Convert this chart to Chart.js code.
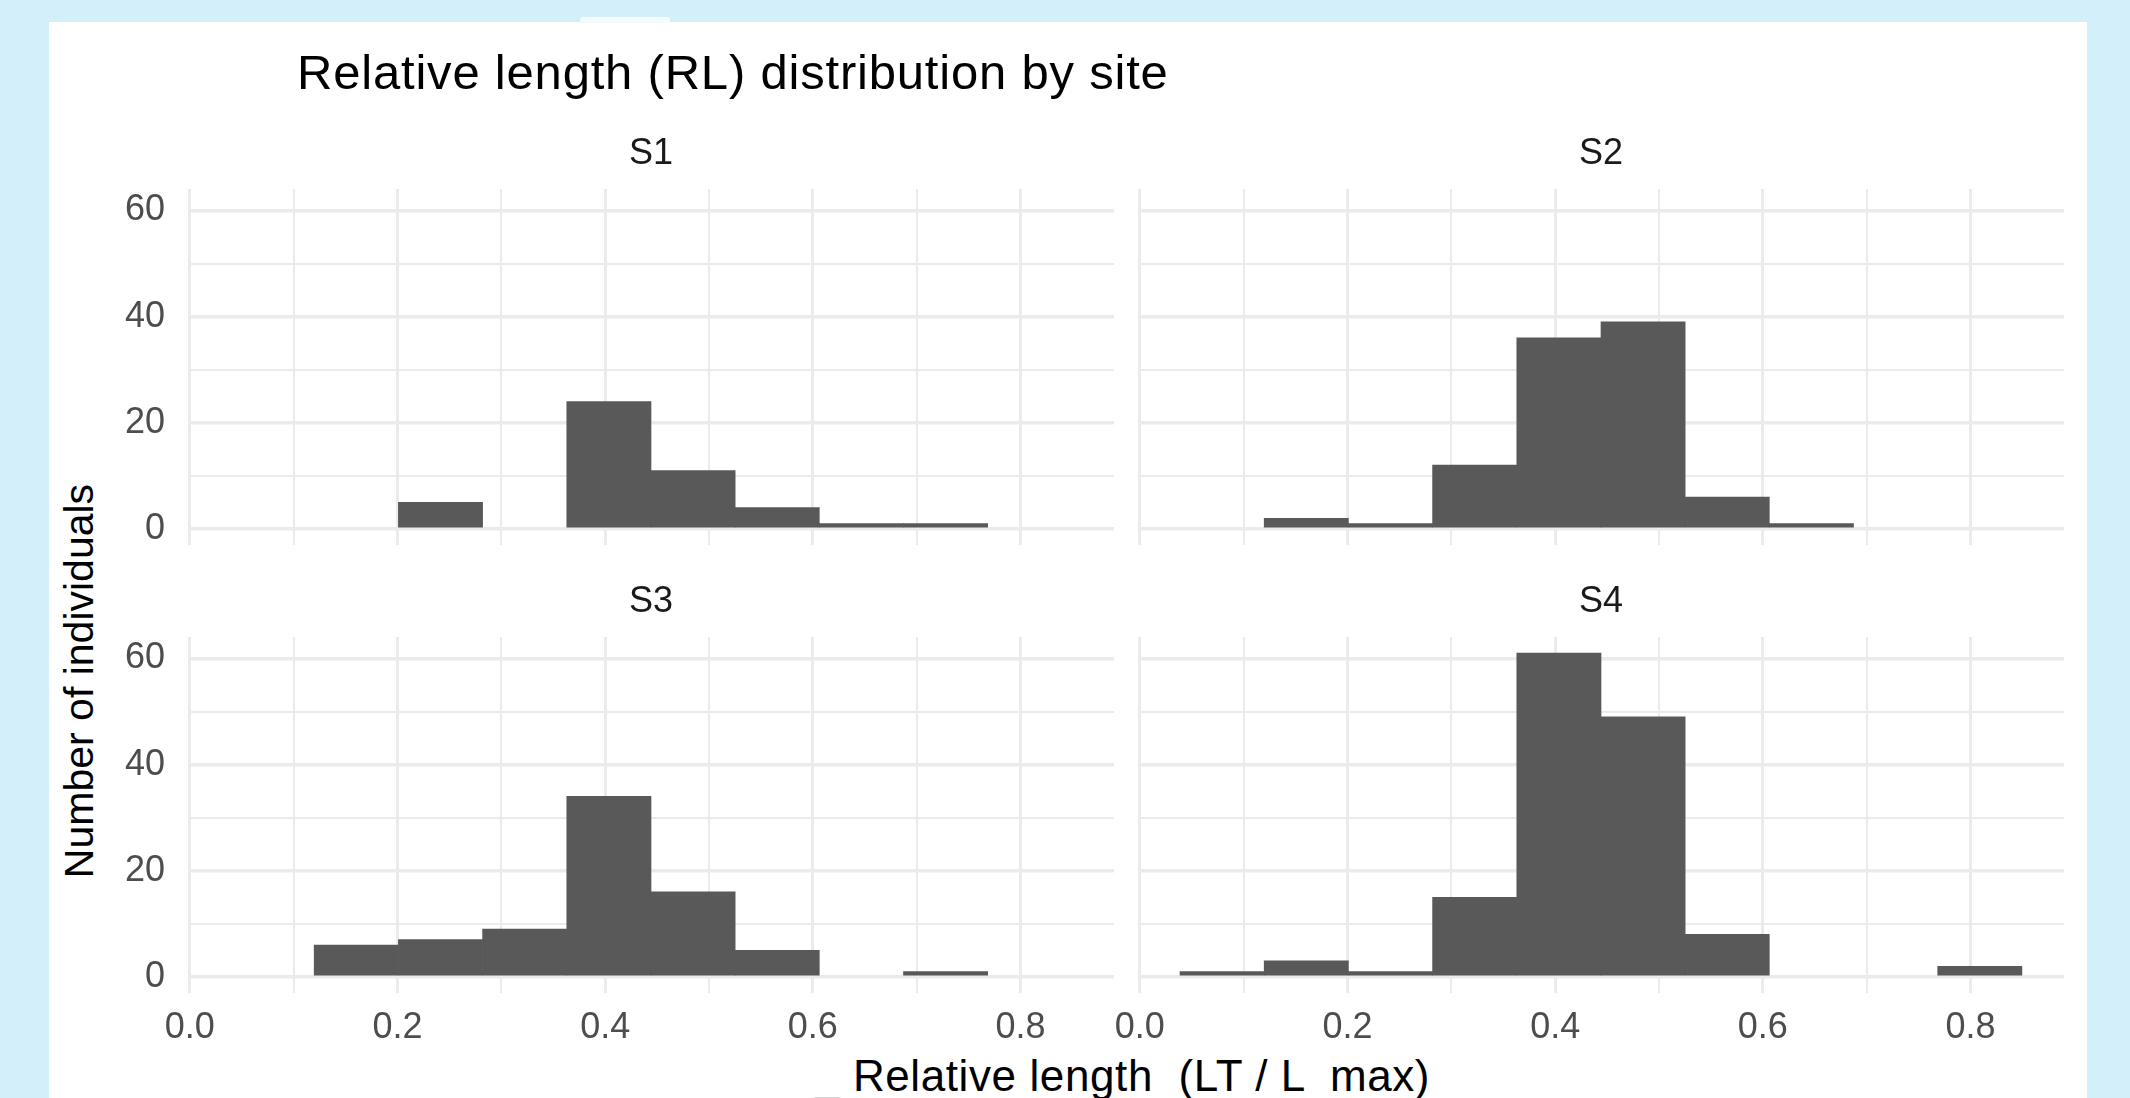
<!DOCTYPE html>
<html>
<head>
<meta charset="utf-8">
<title>Relative length (RL) distribution by site</title>
<script src="https://cdn.jsdelivr.net/npm/chart.js@4.4.1/dist/chart.umd.min.js"></script>
<style>
  body { margin: 0; width: 2130px; height: 1098px; background: #d3eff9; overflow: hidden; position: relative;
         font-family: "Liberation Sans", Arial, sans-serif; }
  #card { position: absolute; left: 49px; top: 22px; width: 2038px; height: 1076px; background: #fff; }
  #tab { position: absolute; left: 580px; top: 17px; width: 90px; height: 6px; background: #f4fbfe; border-radius: 3px 3px 0 0; }
  #title { position: absolute; left: 297px; top: 48px; font-size: 49px; line-height: 1; letter-spacing: 0.8px; color: #000; white-space: nowrap; }
  #ytitle { position: absolute; left: 79px; top: 681px; font-size: 41px; line-height: 1; color: #000; white-space: nowrap;
            transform: translate(-50%, -50%) rotate(-90deg); }
  #xtitle { position: absolute; left: 815px; top: 1054px; font-size: 44px; line-height: 1; letter-spacing: 0.6px; color: #000; white-space: pre; }
  #xtitle span { color: #c8c8c8; }
  canvas { position: absolute; }
</style>
</head>
<body>
<div id="card"></div>
<div id="tab"></div>
<div id="title">Relative length (RL) distribution by site</div>
<div id="ytitle">Number of individuals</div>
<div id="xtitle"><span>_</span> Relative length  (LT / L  max)</div>

<script>
// histogram bins (centres) shared by all sites
const binCenters = [0.0792, 0.1603, 0.2414, 0.3225, 0.4036, 0.4847, 0.5657, 0.6468, 0.7279, 0.8090];
const siteNames = ['S1', 'S2', 'S3', 'S4'];
const countsS1 = [0, 0, 5, 0, 24, 11, 4, 1, 1, 0];
const countsS2 = [0, 2, 1, 12, 36, 39, 6, 1, 0, 0];
const countsS3 = [0, 6, 7, 9, 34, 16, 5, 0, 1, 0];
const countsS4 = [1, 3, 1, 15, 61, 49, 8, 0, 0, 2];

const xGrid = [0, 0.1, 0.2, 0.3, 0.4, 0.5, 0.6, 0.7, 0.8];
const xTickValues = [0, 0.2, 0.4, 0.6, 0.8];
const xTickLabels = ['0.0', '0.2', '0.4', '0.6', '0.8'];
const yGrid = [0, 10, 20, 30, 40, 50, 60];
const yTickValues = [0, 20, 40, 60];
const yTickLabels = ['0', '20', '40', '60'];

Chart.defaults.font.family = '"Liberation Sans", Arial, sans-serif';

const allCounts = [countsS1, countsS2, countsS3, countsS4];

// panel layout (chart area in page pixels)
const panels = [
    { left: 188, top: 189, showY: true, showX: false },
    { left: 1138, top: 189, showY: false, showX: false },
    { left: 188, top: 637, showY: true, showX: true },
    { left: 1138, top: 637, showY: false, showX: true }
];
const panelW = 926, panelH = 356, axisW = 100, stripH = 60, axisH = 70;

function labelFor(v, values, labels) {
    const i = values.findIndex(t => Math.abs(t - v) < 1e-9);
    return i >= 0 ? labels[i] : '';
}

function isMajor(v, values) {
    return values.some(t => Math.abs(t - v) < 1e-9);
}

function gridWidth(c, values, major, minor) {
    if (!c.tick) return minor;
    return isMajor(c.tick.value, values) ? major : minor;
}

function createPanel(idx) {
    const p = panels[idx];
    const canvas = document.createElement('canvas');
    canvas.width = panelW + axisW;
    canvas.height = panelH + stripH + axisH;
    canvas.style.left = (p.left - axisW) + 'px';
    canvas.style.top = (p.top - stripH) + 'px';
    document.body.appendChild(canvas);

    new Chart(canvas.getContext('2d'), {
        type: 'bar',
        data: {
            datasets: [{
                label: siteNames[idx],
                data: binCenters.map((x, i) => ({ x: x, y: allCounts[idx][i] })),
                // empty bins stay empty
                backgroundColor: c => (c.raw && c.raw.y > 0) ? '#595959' : 'rgba(0,0,0,0)',
                borderWidth: 0,
                barPercentage: 1,
                categoryPercentage: 1,
                barThickness: 'flex'
            }]
        },
        options: {
            responsive: false,
            animation: false,
            devicePixelRatio: 1,
            layout: { padding: 0 },
            plugins: {
                legend: { display: false },
                tooltip: { enabled: false },
                title: {
                    display: true,
                    text: siteNames[idx],
                    fullSize: false,
                    color: '#1a1a1a',
                    font: { size: 36, weight: 'normal', lineHeight: 1.2 },
                    padding: { top: 3.4, bottom: 13.4 }
                }
            },
            scales: {
                x: {
                    type: 'linear',
                    offset: false,
                    min: -0.0018,
                    max: 0.8901,
                    afterBuildTicks: s => { s.ticks = xGrid.map(v => ({ value: v })); },
                    afterFit: s => { s.height = axisH; },
                    ticks: {
                        display: p.showX,
                        autoSkip: false,
                        maxRotation: 0,
                        padding: 13,
                        color: '#4d4d4d',
                        font: { size: 36 },
                        callback: v => labelFor(v, xTickValues, xTickLabels)
                    },
                    grid: {
                        offset: false,
                        color: '#ebebeb',
                        drawTicks: false,
                        lineWidth: c => gridWidth(c, xTickValues, 3, 2)
                    },
                    border: { display: false }
                },
                y: {
                    type: 'linear',
                    min: -3.05,
                    max: 64.05,
                    afterBuildTicks: s => { s.ticks = yGrid.map(v => ({ value: v })); },
                    afterFit: s => { s.width = axisW; },
                    ticks: {
                        display: p.showY,
                        autoSkip: false,
                        padding: 23,
                        color: '#4d4d4d',
                        font: { size: 36 },
                        callback: v => labelFor(v, yTickValues, yTickLabels)
                    },
                    grid: {
                        color: '#ebebeb',
                        drawTicks: false,
                        lineWidth: c => gridWidth(c, yTickValues, 3.5, 2)
                    },
                    border: { display: false }
                }
            }
        }
    });
}

panels.forEach((p, i) => createPanel(i));
</script>
</body>
</html>
